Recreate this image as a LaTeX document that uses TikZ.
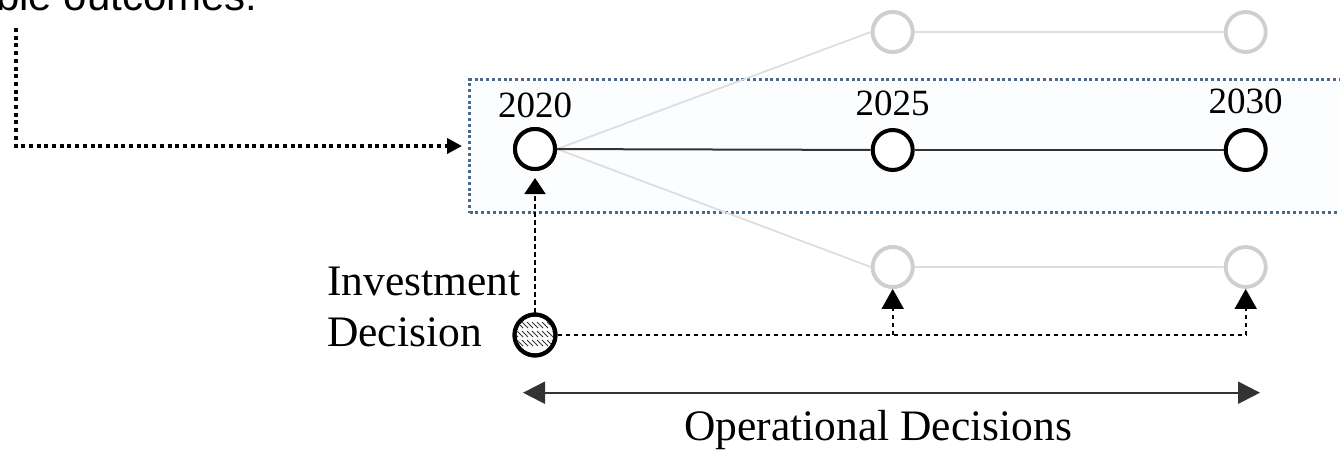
\documentclass[tikz,border=0pt]{standalone}
\usepackage{fontspec}
\setmainfont{Liberation Serif}
\newfontfamily\arialf{Liberation Sans}
\usetikzlibrary{arrows.meta,calc}
\definecolor{framec}{HTML}{4A6A8C}
\definecolor{framefill}{HTML}{FBFDFF}
\definecolor{ghostc}{HTML}{CFCFCF}
\definecolor{ghostl}{HTML}{DEDEDE}
\definecolor{mainl}{HTML}{333333}
\tikzset{
  yearc/.style={circle,draw=black,line width=4pt,minimum size=40pt,inner sep=0pt,fill=white},
  ghostc/.style={circle,draw=ghostc,line width=3.8pt,minimum size=40pt,inner sep=0pt,fill=white},
  invc/.style={circle,draw=black,line width=4pt,minimum size=41pt,inner sep=0pt},
  hatch/.style={line width=1pt,draw=black!80},
  frame/.style={draw=framec,fill=framefill,line width=3pt,dash pattern=on 3pt off 2.8pt,inner sep=0pt},
  dotarrow/.style={line width=4pt,dash pattern=on 4pt off 3.7pt,-{Triangle[width=15pt,length=15pt]}},
  mainline/.style={draw=mainl,line width=2pt},
  ghostline/.style={draw=ghostl,line width=1.8pt},
  dashline/.style={line width=1.6pt,dash pattern=on 4.5pt off 3.5pt},
  dasharrow/.style={dashline,-{Triangle[width=22pt,length=20pt]}},
  opline/.style={draw=mainl,line width=2.2pt,{Triangle[width=22pt,length=22pt]}-{Triangle[width=22pt,length=22pt]}},
  yearlbl/.style={anchor=base,inner sep=0pt,font=\fontsize{37}{44}\selectfont},
  biglbl/.style={inner sep=0pt,font=\fontsize{43.5}{52}\selectfont}
}
\begin{document}
\begin{tikzpicture}[x=1pt,y=-1pt]
\useasboundingbox (0,0) rectangle (1340,450);
\clip (0,0) rectangle (1340,450);
% header text (cut off at the top)
\node[anchor=base west,inner sep=0pt,font=\arialf\fontsize{42}{50}\selectfont] (hdr) at (-4,10) {ble outcomes:};
% dotted frame
\node[frame,anchor=north west,minimum width=880pt,minimum height=133pt] (box) at (468,78) {};
% nodes
\node[ghostc] (u25) at (892.7,32) {};
\node[ghostc] (u30) at (1245.7,32) {};
\node[ghostc] (l25) at (892.7,267) {};
\node[ghostc] (l30) at (1245.7,267) {};
\node[yearc] (c20) at (535,149) {};
\node[yearc] (c25) at (892.7,150) {};
\node[yearc] (c30) at (1245.7,150) {};
\node[invc] (inv) at (535,335) {};
% hatching of the investment circle
\begin{scope}
  \clip (inv.center) circle (18pt);
  \foreach \dy in {-10,-1,8}
    \foreach \dx in {-20,-15,...,20}
      \draw[hatch] ($(inv.center)+(\dx,\dy)+(-3,-3)$) -- ++(6,6);
\end{scope}
\node[invc] at (inv) {};
% ghost connectors
\draw[ghostline] (c20.east) -- (u25.west);
\draw[ghostline] (c20.east) -- (l25.west);
\draw[ghostline] (u25) -- (u30);
\draw[ghostline] (l25) -- (l30);
% main connectors
\draw[mainline] (c20) -- (c25);
\draw[mainline] (c25) -- (c30);
% redraw circles on top
\node[ghostc] at (u25) {};
\node[ghostc] at (l25) {};
\node[yearc] at (c20) {};
% year labels
\node[yearlbl] (y20) at (535,117) {2020};
\node[yearlbl] (y25) at (892.7,115) {2025};
\node[yearlbl] (y30) at (1245.7,113.5) {2030};
% dotted arrow from header
\coordinate (src) at (16,28);
\draw[dotarrow,shorten >=6pt] (src) |- (box.west);
% investment decision label
\node[biglbl,anchor=base west] (invl) at (327,295) {Investment};
\node[biglbl,anchor=base west] (decl) at (327,346.5) {Decision};
% dashed decision arrows
\draw[dasharrow,-{Triangle[width=21pt,length=16pt]},shorten >=7pt] (inv.north) -- (c20.south);
\coordinate (j25) at (l25 |- inv);
\coordinate (j30) at (l30 |- inv);
\draw[dashline] (inv.east) -- (j30);
\draw[dasharrow] (j25) -- (l25.south);
\draw[dasharrow] (j30) -- (l30.south);
% operational decisions arrow
\coordinate (opa) at (523,392.7);
\coordinate (opb) at (1260,392.7);
\draw[opline] (opa) -- (opb);
\node[biglbl,anchor=base] (opl) at (878,440) {Operational Decisions};
\end{tikzpicture}
\end{document}
